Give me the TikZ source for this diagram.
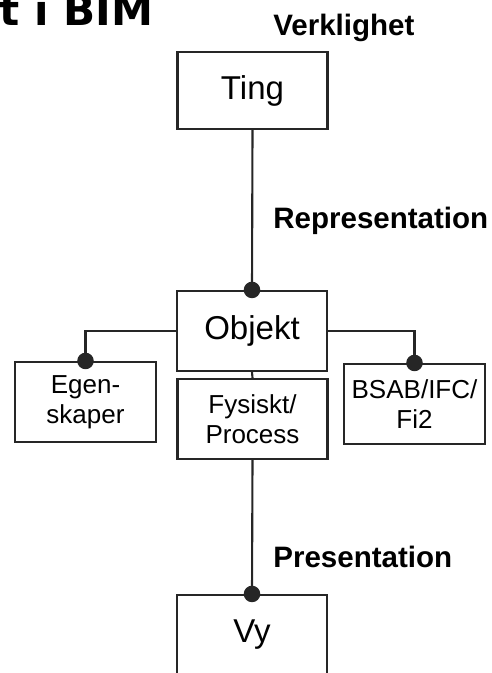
\documentclass[tikz,border=0pt]{standalone}
\usepackage{fontspec}
\setmainfont{Liberation Sans}
\newfontfamily\titlefont{DejaVu Sans}
\usetikzlibrary{arrows.meta}
\begin{document}
\begin{tikzpicture}[x=0.02cm, y=-0.02cm,
    box/.style={rectangle, draw=black!85, line width=1.2pt, fill=white, minimum width=3cm, minimum height=1.6cm, align=center, inner sep=0pt, font=\fontsize{18.8}{22}\selectfont},
    sbox/.style={box, font=\fontsize{14.8}{17}\selectfont},
    lbl/.style={anchor=base west, inner sep=0pt, font=\fontsize{16.8}{20}\selectfont\bfseries},
    con/.style={draw=black!85, line width=1.2pt},
    dot/.style={con, -{Circle[length=0.33cm]}, shorten >=-0.165cm}
]
\clip (0,0) rectangle (492,673);
\useasboundingbox (0,0) rectangle (492,673);
\node[anchor=base west, inner sep=0pt, font=\titlefont\fontsize{24}{28}\selectfont\bfseries] (titel) at (-1,25) {t i BIM};
\node[box, minimum height=1.54cm] (ting) at (252.5,90.5) {Ting};
\node[box] (obj) at (252,331) {Objekt};
\node[sbox] (fys) at (252.5,419) {Fysiskt/\\Process};
\node[sbox, minimum width=2.82cm] (egen) at (85.5,402) {Egen-\\skaper};
\node[sbox, minimum width=2.82cm] (bsab) at (414.5,404) {BSAB/IFC/\\Fi2};
\node[box] (vy) at (252,635) {Vy};
\node[lbl] (verk) at (273,35) {Verklighet};
\node[lbl] (repr) at (273,228) {Representation};
\node[lbl] (pres) at (273,567) {Presentation};
\draw[dot] (ting.south) -- (obj.north);
\draw[con] (obj.south) -- (fys.north);
\draw[dot] (fys.south) -- (vy.north);
\draw[dot] (obj.west) -| (egen.north);
\draw[dot] (obj.east) -| (bsab.north);
\end{tikzpicture}
\end{document}
